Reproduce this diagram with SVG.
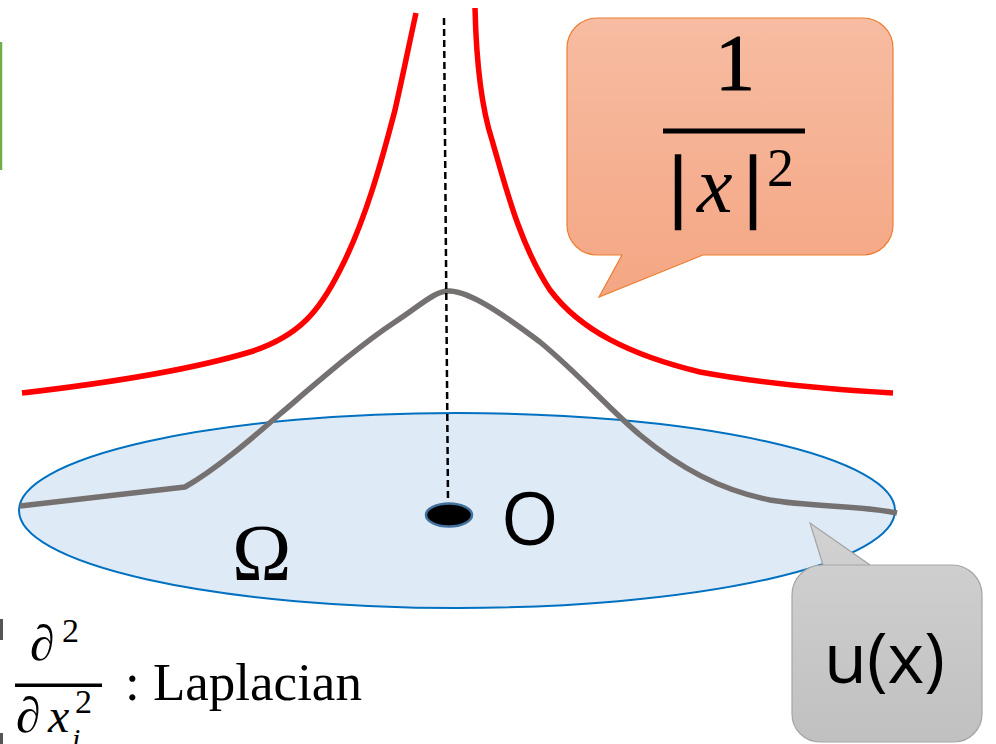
<svg xmlns="http://www.w3.org/2000/svg" width="996" height="744" viewBox="0 0 996 744">
<style>
.sans{font-family:"Open Sans","Liberation Sans",sans-serif;fill:#000}
.serif{font-family:"Liberation Serif","DejaVu Serif",serif;fill:#000}
.it{font-style:italic}
.bar{stroke:#000;stroke-width:2.5}
.red{fill:none;stroke:#FF0000;stroke-width:5.5}
.gray{fill:none;stroke:#767171;stroke-width:5.5;stroke-linejoin:round}
</style>
<defs>
<linearGradient id="og" x1="0" y1="0" x2="0" y2="1">
<stop offset="0" stop-color="#F7BCA2"/><stop offset="1" stop-color="#F4A683"/>
</linearGradient>
<linearGradient id="gg" x1="0" y1="0" x2="0" y2="1">
<stop offset="0" stop-color="#D2D2D2"/><stop offset="1" stop-color="#C0C0C0"/>
</linearGradient>
</defs>
<rect width="996" height="744" fill="#FFFFFF"/>
<g id="green-box"><line x1="1" y1="42" x2="1" y2="170" stroke="#70AD47" stroke-width="2.5"/></g>
<g id="domain">
<ellipse cx="457" cy="510.5" rx="438" ry="97.5" fill="#DEEBF7" stroke="#0070C0" stroke-width="2"/>
<text class="serif" x="232" y="580" font-size="80">Ω</text>
</g>
<g id="connectors">
<path class="red" d="M22,393 C100,384 190,370 250,352 C300,336 320,310 340,270 C365,222 382,160 395,110 C403,75 410,40 416,13"/>
<path class="red" d="M475,8 C476,50 479,100 492,140 C505,185 520,245 550,290 C580,330 630,355 700,372 C770,385 840,390 893,393"/>
<path class="gray" d="M20,506 L185,487 C215,470 250,440 280,414 C320,380 360,345 395,322 C420,306 435,290 450,291 C470,292 500,312 540,342 C580,375 610,410 640,435 C680,468 720,490 770,500 C810,507 860,505 897,513"/>
<path d="M444,18 L448,500" fill="none" stroke="#000" stroke-width="2.5" stroke-dasharray="7,4"/>
</g>
<g id="origin">
<ellipse cx="449" cy="515" rx="23" ry="11.5" fill="#000" stroke="#41719C" stroke-width="2.5"/>
<text class="sans" x="501" y="545" font-size="74">O</text>
</g>
<g id="callout-kernel">
<path d="M597,18 H863 A30,30 0 0 1 893,48 V225 A30,30 0 0 1 863,255 H703 L599,297 L622,255 H597 A30,30 0 0 1 567,225 V48 A30,30 0 0 1 597,18 Z" fill="url(#og)" stroke="#ED7D31" stroke-width="1.2"/>
<text class="serif" x="735" y="90" font-size="80" text-anchor="middle" stroke="#000" stroke-width="1">1</text>
<rect x="663" y="128.5" width="142" height="5" fill="#000"/>
<text class="serif bar" x="670" y="212" font-size="80">|</text>
<text class="serif it" x="697" y="212" font-size="80">x</text>
<text class="serif bar" x="745" y="212" font-size="80">|</text>
<text class="serif" x="767" y="186" font-size="54">2</text>
</g>
<g id="callout-u">
<path d="M822,565 H952 A30,30 0 0 1 982,595 V714 A28,28 0 0 1 954,742 H820 A28,28 0 0 1 792,714 V595 A30,30 0 0 1 822,565 H823 L810,523 L870,565 Z" fill="url(#gg)" stroke="#A5A5A5" stroke-width="1.2"/>
<text class="sans" x="824" y="683" font-size="70">u(x)</text>
</g>
<g id="laplacian">
<rect x="0" y="619" width="3" height="21" fill="#555"/>
<rect x="0" y="733" width="3" height="11" fill="#555"/>
<text class="serif it" x="30" y="660" font-size="50">∂</text>
<text class="serif" x="62" y="642" font-size="34">2</text>
<rect x="15" y="683.5" width="87" height="3.5" fill="#000"/>
<text class="serif it" x="16" y="732" font-size="50">∂</text>
<text class="serif it" x="48" y="732" font-size="48">x</text>
<text class="serif it" x="72" y="749" font-size="30">i</text>
<text class="serif" x="75" y="713" font-size="34">2</text>
<text class="serif" x="125" y="700" font-size="53">: Laplacian</text>
</g>
</svg>
